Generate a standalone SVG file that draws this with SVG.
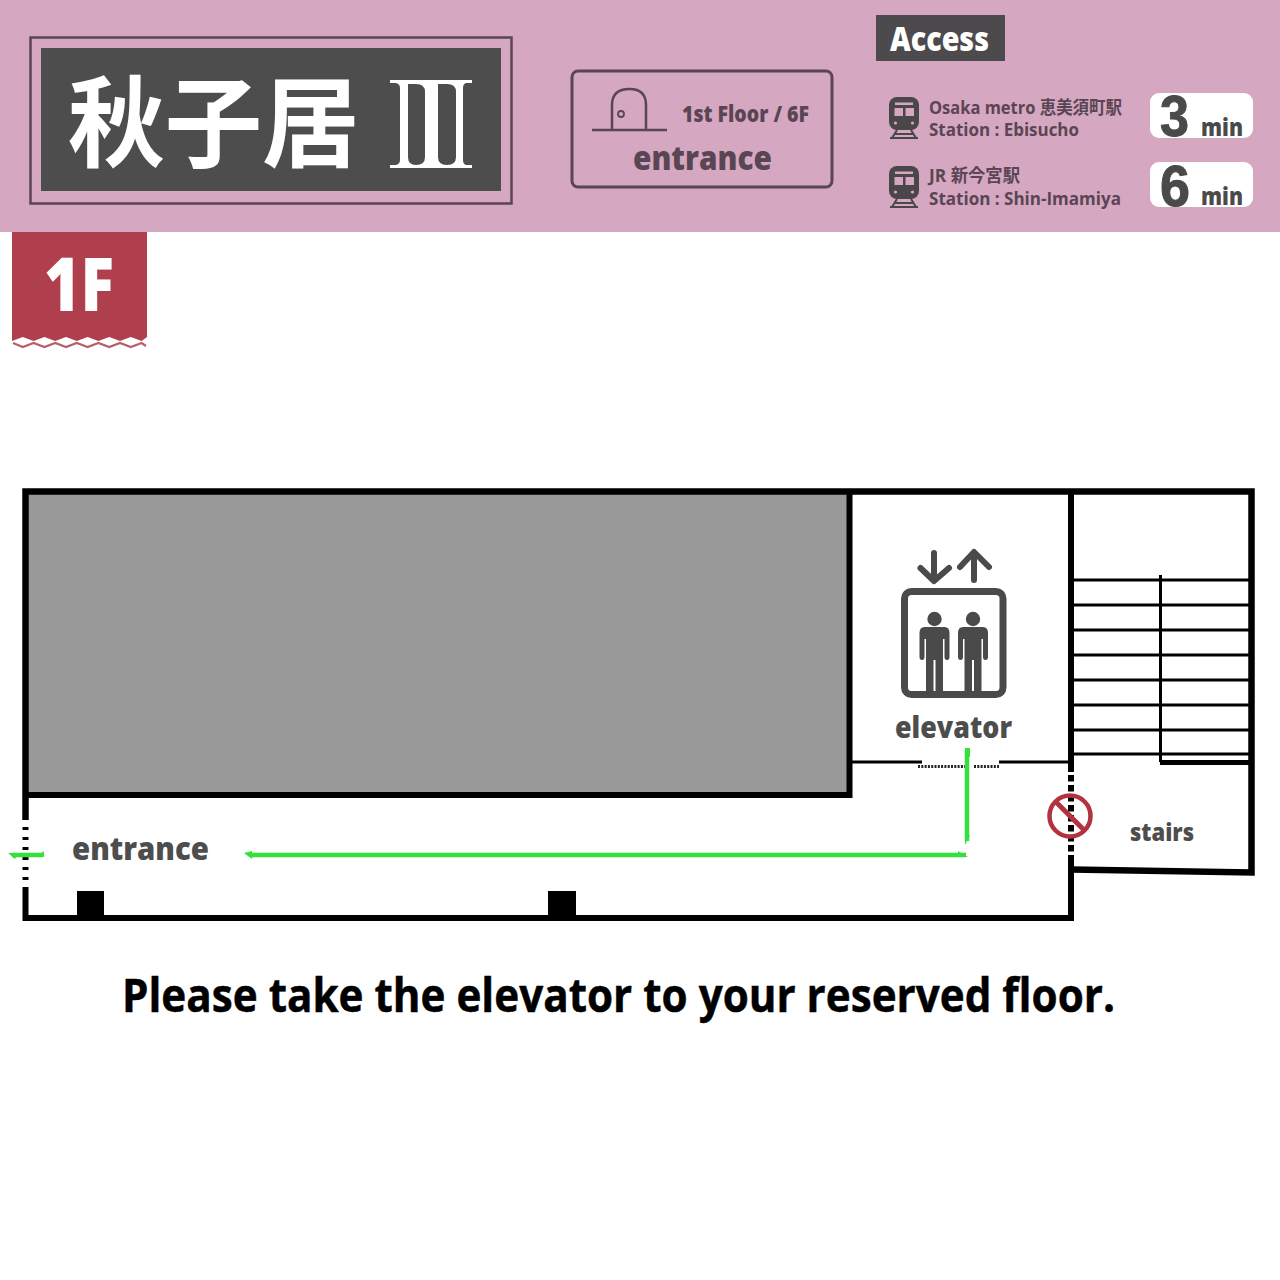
<svg xmlns="http://www.w3.org/2000/svg" width="1280" height="1280" viewBox="0 0 1280 1280">
<defs>
<style>
text{font-family:"Open Sans","Noto Sans CJK JP",sans-serif;font-weight:800;fill:#4d4a4d}
.st{font-size:18px;fill:#5a4553;font-weight:700}
.num{font-family:"Liberation Sans",sans-serif;font-weight:700;font-size:58px;fill:#4a4a4a;stroke:#4a4a4a;stroke-width:1}
.min{font-size:25px;fill:#4a4a4a}
.lbl{font-size:32px;fill:#4d4d4d}
.wall{fill:none;stroke:#000;stroke-linecap:butt}
.green{fill:none;stroke:#33e03c;stroke-width:4.500}
.grnf{fill:#33e03c}
.ico{fill:#4a464a}
</style>
<g id="train">
<rect x="0" y="0" width="30" height="33" rx="8" class="ico"/>
<rect x="5.500" y="11" width="8.500" height="8" fill="#d5a7c1"/>
<rect x="16.500" y="11" width="8.500" height="8" fill="#d5a7c1"/>
<rect x="6" y="5.500" width="18" height="2.500" fill="#d5a7c1"/>
<circle cx="6.500" cy="26" r="1.600" fill="#d5a7c1"/>
<circle cx="23.500" cy="26" r="1.600" fill="#d5a7c1"/>
<path d="M8 33 L3 41 M22 33 L27 41 M1 41 H29 M6 37 H24" stroke="#4a464a" stroke-width="2" fill="none"/>
</g>
<g id="person" fill="#4a4a4a">
<circle cx="0" cy="-31" r="7.200"/>
<path d="M-10 -23 H10 Q15 -23 15 -17 V7 Q15 10 12.500 10 Q10 10 10 7 V-11 L8.500 -11 V42 H1 V10 H-1 V42 H-8.500 V-11 L-10 -11 V7 Q-10 10 -12.500 10 Q-15 10 -15 7 V-17 Q-15 -23 -10 -23 Z"/>
</g>
</defs>

<rect id="page" width="1280" height="1280" fill="#fff"/>

<g id="header">
<rect width="1280" height="232" fill="#d5a7c1"/>
</g>

<g id="title">
<rect x="30.500" y="37.500" width="481" height="166" fill="none" stroke="#5a4553" stroke-width="2.500"/>
<rect x="41" y="48" width="460" height="143" fill="#4d4d4d"/>
<text x="68" y="159" font-size="99" style="fill:#fff;font-family:'Noto Sans CJK JP',sans-serif;font-weight:700" textLength="291" lengthAdjust="spacingAndGlyphs">秋子居</text>
<path fill="#fff" fill-rule="evenodd" d="M390 80 H472 V83 H466 Q463 84 463 88 V160 Q463 164 466 165 H472 V168 H390 V165 H396 Q400 164 400 160 V88 Q400 84 396 83 H390 Z M408 84 V157 Q408 165 416 165 Q425 165 425 157 V92 Q425 84 416 84 Z M438 84 V157 Q438 165 447 165 Q456 165 456 157 V92 Q456 84 447 84 Z"/>
</g>

<g id="entrance-card">
<rect x="572" y="71" width="260" height="116" rx="6" fill="none" stroke="#5a4553" stroke-width="3"/>
<path d="M592 130 H667" stroke="#5a4553" stroke-width="2.500" fill="none"/>
<path d="M612 129 V105 Q612 89 629.500 89 Q646 89 646 105 V129" stroke="#5a4553" stroke-width="2.500" fill="none"/>
<circle cx="621" cy="114" r="3" fill="none" stroke="#5a4553" stroke-width="1.800"/>
<text x="682" y="122" font-size="22" textLength="127" lengthAdjust="spacingAndGlyphs" style="fill:#5a4553">1st Floor / 6F</text>
<text x="633" y="170" font-size="33" textLength="139" lengthAdjust="spacingAndGlyphs" style="fill:#5a4553">entrance</text>
</g>

<g id="access">
<rect x="876" y="15" width="129" height="46" fill="#4d4a4d"/>
<text x="890" y="51" font-size="34" textLength="99" lengthAdjust="spacingAndGlyphs" style="fill:#fff">Access</text>
</g>

<g id="route-metro">
<use href="#train" x="889" y="97"/>
<text class="st" x="929" y="114" textLength="193" lengthAdjust="spacingAndGlyphs">Osaka metro 恵美須町駅</text>
<text class="st" x="929" y="136" textLength="150" lengthAdjust="spacingAndGlyphs">Station : Ebisucho</text>
<rect x="1150" y="93" width="103" height="45" rx="9" fill="#fff"/>
<text class="num" x="1160" y="136" textLength="29" lengthAdjust="spacingAndGlyphs">3</text>
<text class="min" x="1201" y="136" textLength="42" lengthAdjust="spacingAndGlyphs">min</text>
</g>

<g id="route-jr">
<use href="#train" x="889" y="166"/>
<text class="st" x="929" y="182" textLength="91" lengthAdjust="spacingAndGlyphs">JR 新今宮駅</text>
<text class="st" x="929" y="205" textLength="192" lengthAdjust="spacingAndGlyphs">Station : Shin-Imamiya</text>
<rect x="1150" y="162" width="103" height="45" rx="9" fill="#fff"/>
<text class="num" x="1160" y="206" textLength="30" lengthAdjust="spacingAndGlyphs">6</text>
<text class="min" x="1201" y="205" textLength="42" lengthAdjust="spacingAndGlyphs">min</text>
</g>

<g id="floor-tag">
<path d="M12 232 H147 V337 L141.600 341 L130.800 337 L120 341 L109.200 337 L98.400 341 L87.600 337 L76.800 341 L66 337 L55.200 341 L44.400 337 L33.600 341 L22.800 337 L12 341 Z" fill="#b03f4e"/>
<path d="M13 343 L22.800 347 L33.600 343 L44.400 347 L55.200 343 L66 347 L76.800 343 L87.600 347 L98.400 343 L109.200 347 L120 343 L130.800 347 L141.600 343 L146 346" fill="none" stroke="#b5606c" stroke-width="2.200"/>
<text x="44" y="311" font-size="74" style="fill:#fff" textLength="70" lengthAdjust="spacingAndGlyphs">1F</text>
</g>

<g id="gray-block">
<rect x="25.500" y="491.500" width="824" height="303" fill="#999"/>
</g>

<g id="walls">
<path class="wall" stroke-width="6.500" d="M25.500 820 V491.500 H1251.500 V872.500 L1071 869.500"/>
<path class="wall" stroke-width="6" d="M849.500 491 V795 H25"/>
<path class="wall" stroke-width="6" d="M25.500 887 V918 H1071 V855"/>
<path class="wall" stroke-width="6" d="M1071 491 V772"/>
<path class="wall" stroke-width="3" d="M851 762 H922 M999 762 H1070"/>
<path d="M918 766.500 H967 M974 766.500 H999" fill="none" stroke="#222" stroke-width="3" stroke-dasharray="2 1.300"/>
<path d="M1071 775 V855" fill="none" stroke="#000" stroke-width="6" stroke-dasharray="6.500 3.500"/>
<path d="M25.500 827 V884" fill="none" stroke="#000" stroke-width="6" stroke-dasharray="3 7"/>
<rect x="77" y="891" width="27" height="27" fill="#000"/>
<rect x="548" y="891" width="28" height="27" fill="#000"/>
</g>

<g id="stairs">
<path class="wall" stroke-width="3" d="M1072 580 H1250 M1072 605 H1250 M1072 630 H1250 M1072 655 H1250 M1072 680 H1250 M1072 705 H1250 M1072 730 H1250 M1072 754 H1250"/>
<path class="wall" stroke-width="3" d="M1160.500 575 V762"/>
<path class="wall" stroke-width="5" d="M1160 762.500 H1252"/>
<text class="lbl" x="1130" y="841" style="font-size:25px" textLength="64" lengthAdjust="spacingAndGlyphs">stairs</text>
</g>

<g id="no-entry">
<circle cx="1070" cy="816" r="20.500" fill="none" stroke="#b3323f" stroke-width="4.500"/>
<path d="M1055 801 L1085 831" stroke="#b3323f" stroke-width="5" fill="none"/>
</g>

<g id="elevator">
<path d="M934 553 V580 M920.500 568 L934 581 L949 568" fill="none" stroke="#4a4a4a" stroke-width="6" stroke-linecap="round" stroke-linejoin="round"/>
<path d="M974 580 V553 M960 567 L974 552 L989 567" fill="none" stroke="#4a4a4a" stroke-width="6" stroke-linecap="round" stroke-linejoin="round"/>
<rect x="904.500" y="591.500" width="98.500" height="103" rx="7" fill="none" stroke="#4a4a4a" stroke-width="7"/>
<use href="#person" x="934.500" y="650"/>
<use href="#person" x="973" y="650"/>
<text class="lbl" x="895" y="738" style="font-size:30px" textLength="117" lengthAdjust="spacingAndGlyphs">elevator</text>
</g>

<g id="connectors">
<path class="green" d="M967 751 V841"/>
<path class="grnf" d="M965 748 H970 V757 L965 755 Z M965 835 H970 L965 845 Z"/>
<path class="green" d="M250 855 H966"/>
<path class="grnf" d="M244 853 L252 851 V859 Z M958 851 L968 857 H958 Z"/>
<path class="green" d="M12 855 H42"/>
<path class="grnf" d="M8 853 H18 L15 859 Z M44 851 V857 H36 Z"/>
</g>

<g id="entrance-label">
<text class="lbl" x="72" y="860" textLength="137" lengthAdjust="spacingAndGlyphs">entrance</text>
</g>

<g id="note">
<text x="122" y="1012" font-size="47" style="fill:#000;font-weight:700;stroke:#000;stroke-width:0.500" textLength="993" lengthAdjust="spacingAndGlyphs">Please take the elevator to your reserved floor.</text>
</g>
</svg>
